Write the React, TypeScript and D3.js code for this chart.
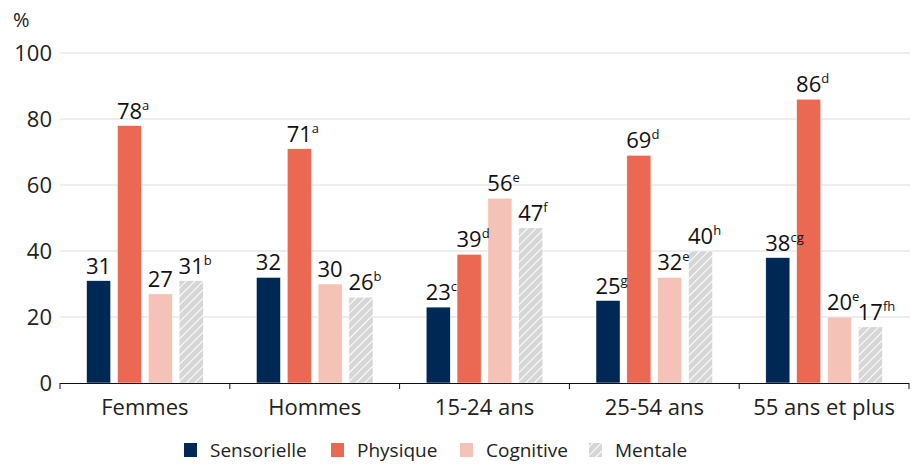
import React from "react";
import * as d3 from "d3";

const categories = ["Femmes", "Hommes", "15-24 ans", "25-54 ans", "55 ans et plus"];
const seriesNames = ["Sensorielle", "Physique", "Cognitive", "Mentale"];
const sensorielle = [31, 32, 23, 25, 38];
const physique = [78, 71, 39, 69, 86];
const cognitive = [27, 30, 56, 32, 20];
const mentale = [31, 26, 47, 40, 17];
const supSensorielle = ["", "", "c", "g", "cg"];
const supPhysique = ["a", "a", "d", "d", "d"];
const supCognitive = ["", "", "e", "e", "e"];
const supMentale = ["b", "b", "f", "h", "fh"];
const yTicks = [0, 20, 40, 60, 80, 100];

const values = [sensorielle, physique, cognitive, mentale];
const sups = [supSensorielle, supPhysique, supCognitive, supMentale];
const colors = ["#002855", "#EB6853", "#F5C2B8", "url(#hatch)"];

const W = 914;
const H = 464;
const left = 60;
const right = 909;
const top = 53;
const bottom = 383;
const FONT = "'Open Sans', sans-serif";

export default function App() {
  const x0 = d3.scaleBand().domain(categories).range([left, right]).padding(0);
  const x1 = d3
    .scaleBand()
    .domain(seriesNames)
    .range([0, x0.bandwidth()])
    .paddingInner(0.22)
    .paddingOuter(0.862);
  const y = d3.scaleLinear().domain([0, 100]).range([bottom, top]);
  const fs = 22;
  const supFs = 13;

  const boundaries = categories.map((c) => x0(c) as number).concat([right]);

  const items = categories.flatMap((c, ci) =>
    seriesNames.map((s, si) => {
      const v = values[si][ci];
      const bx = (x0(c) as number) + (x1(s) as number);
      return { key: c + s, v, bx, bw: x1.bandwidth(), si, sup: sups[si][ci] };
    })
  );

  return (
    <div style={{ position: "absolute", left: 0, top: 0 }}>
      <svg width={W} height={H} style={{ display: "block", fontFamily: FONT }}>
        <defs>
          <pattern id="hatch" patternUnits="userSpaceOnUse" width="6" height="6" patternTransform="rotate(45)">
            <rect width="6" height="6" fill="#D6D6D6" />
            <line x1="0" y1="0" x2="0" y2="6" stroke="#FFFFFF" strokeWidth="2" />
          </pattern>
        </defs>
        <text x={13} y={27} fontSize={20} fill="#222">%</text>
        {yTicks.map((t) => (
          <g key={t}>
            {t > 0 && (
              <line x1={left} x2={right + 1} y1={y(t)} y2={y(t)} stroke="#DCDCDC" strokeWidth={1} />
            )}
            <text x={52} y={y(t)} dy="0.36em" textAnchor="end" fontSize={22} fill="#222">
              {t}
            </text>
          </g>
        ))}
        {items.map((d) => (
          <rect
            key={d.key}
            x={d.bx}
            y={y(d.v)}
            width={d.bw}
            height={bottom - y(d.v)}
            fill={colors[d.si]}
            stroke="#ffffff"
            strokeWidth={0.5}
          />
        ))}
        {items.map((d) => {
          const cx = d.bx + d.bw / 2;
          const halfW = (String(d.v).length * 0.572 * fs) / 2;
          return (
            <g key={"l" + d.key}>
              <text x={cx} y={y(d.v) - 7} textAnchor="middle" fontSize={fs} fill="#111">
                {d.v}
              </text>
              {d.sup && (
                <text x={cx + halfW} y={y(d.v) - 16} textAnchor="start" fontSize={supFs} fill="#111">
                  {d.sup}
                </text>
              )}
            </g>
          );
        })}
        <line x1={left} x2={right} y1={bottom + 0.5} y2={bottom + 0.5} stroke="#111" strokeWidth={1} />
        {boundaries.map((b, i) => (
          <line key={i} x1={b} x2={b} y1={bottom} y2={bottom + 6} stroke="#111" strokeWidth={1} />
        ))}
        {categories.map((c) => (
          <text
            key={c}
            x={(x0(c) as number) + x0.bandwidth() / 2}
            y={415}
            textAnchor="middle"
            fontSize={22}
            fill="#222"
          >
            {c}
          </text>
        ))}
        {seriesNames.map((s, i) => {
          const lx = [184, 331, 460, 589][i];
          return (
            <g key={s}>
              <rect x={lx} y={443} width={13} height={14} fill={colors[i]} />
              <text x={lx + 26} y={450} dy="0.36em" fontSize={19} fill="#222">
                {s}
              </text>
            </g>
          );
        })}
      </svg>
    </div>
  );
}
